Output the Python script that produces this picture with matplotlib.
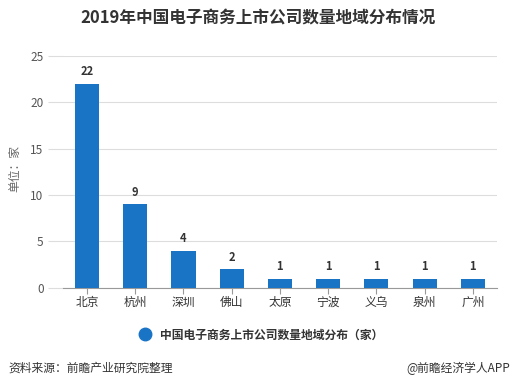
import matplotlib.pyplot as plt
from matplotlib.lines import Line2D

plt.rcParams['font.family'] = ['Noto Sans CJK SC', 'DejaVu Sans']

# 数据
cidades = ['北京', '杭州', '深圳', '佛山', '太原', '宁波', '义乌', '泉州', '广州']
valores = [22, 9, 4, 2, 1, 1, 1, 1, 1]
yticks = [0, 5, 10, 15, 20, 25]

cor_barra = '#1a74c6'

fig = plt.figure(figsize=(5.16, 3.89), dpi=100)
ax = fig.add_axes([0.122, 0.26, 0.841, 0.596])

x = range(len(cidades))
ax.bar(x, valores, width=0.5, color=cor_barra, zorder=3)

# rótulos em cima das barras
for i, v in zip(x, valores):
    ax.text(i, v + 0.6, str(v), ha='center', va='bottom', fontsize=8,
            fontweight='bold', color='#333333')

ax.set_xlim(-0.5, len(cidades) - 0.5)
ax.set_ylim(0, 25)
ax.set_yticks(yticks)
ax.set_xticks(list(x))
ax.set_xticklabels(cidades, fontsize=8.5, color='#333333')
ax.tick_params(axis='y', length=11, color='#dddddd', width=0.8,
               labelsize=8.5, labelcolor='#555555', pad=3)
ax.tick_params(axis='x', length=4, color='#999999', pad=2)
ax.grid(axis='y', color='#dddddd', linewidth=0.8, zorder=0)
for s in ['top', 'right', 'left']:
    ax.spines[s].set_visible(False)
ax.spines['bottom'].set_color('#999999')

fig.text(15 / 516, 1 - 168 / 389, '单位：家', rotation=90, ha='center', va='center',
         fontsize=8.5, color='#666666')

fig.text(0.5, 1 - 18 / 389, '2019年中国电子商务上市公司数量地域分布情况', ha='center',
         va='center', fontsize=12, fontweight='bold', color='#333333')

# legenda
fig.legend(handles=[Line2D([], [], marker='o', linestyle='none', color=cor_barra,
                           markersize=9)],
           labels=['中国电子商务上市公司数量地域分布（家）'],
           loc='center', bbox_to_anchor=(0.5, 1 - 335 / 389), frameon=False,
           prop={'size': 8.5, 'weight': 'bold'}, handletextpad=0.3, labelcolor='#333333')

fig.text(8 / 516, 1 - 368 / 389, '资料来源：前瞻产业研究院整理', ha='left', va='center',
         fontsize=8.5, color='#333333')
fig.text(510 / 516, 1 - 368 / 389, '@前瞻经济学人APP', ha='right', va='center',
         fontsize=8.5, color='#333333')

fig.savefig('out.png', dpi=100)
